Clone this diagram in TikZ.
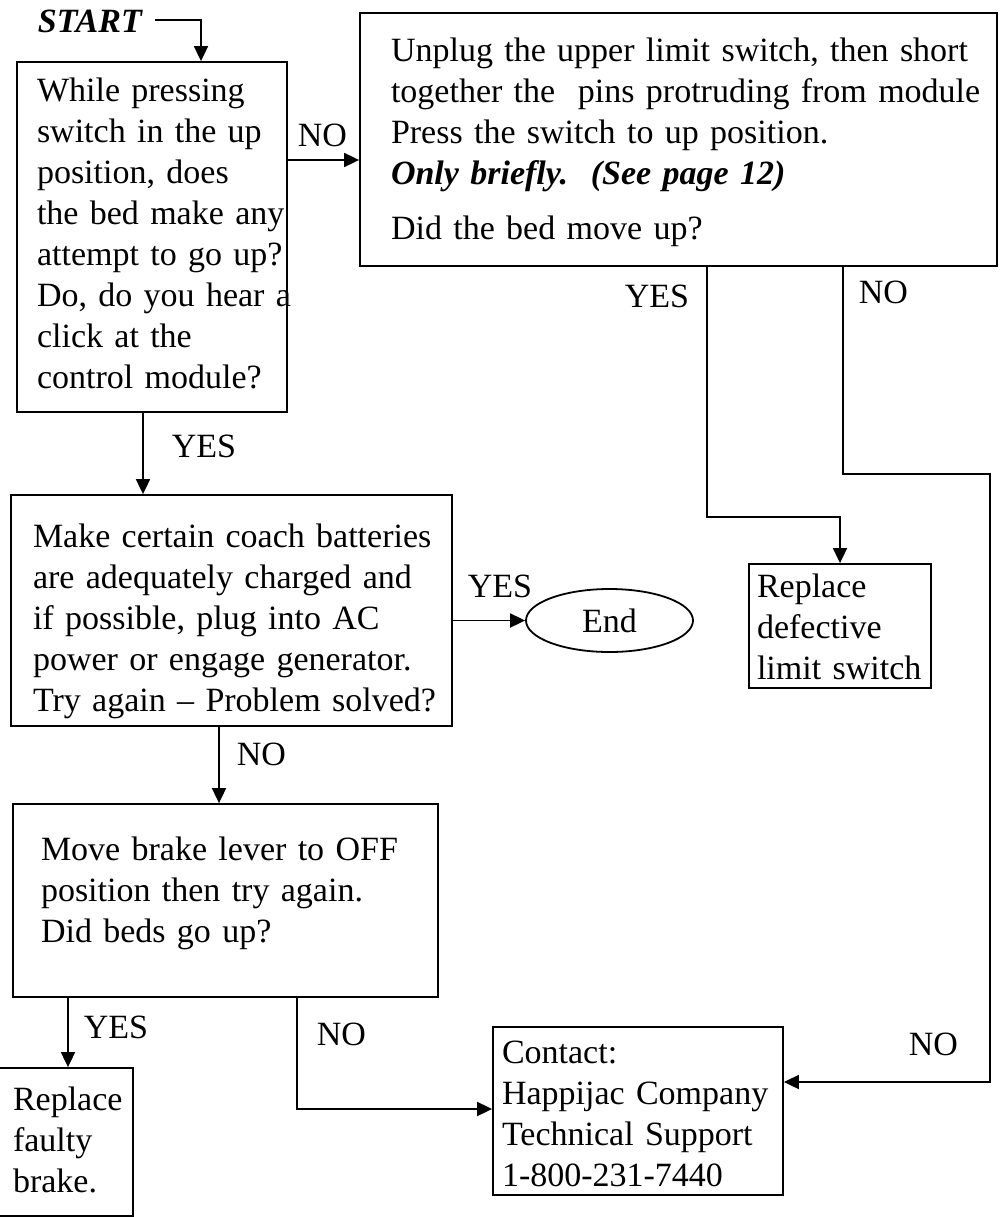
\documentclass[tikz,border=0pt]{standalone}
\usepackage{fontspec}
\setmainfont{Liberation Serif}
\usetikzlibrary{shapes.geometric,arrows.meta}
\newcommand\topgap[1]{\rule{0pt}{#1}}
\newcommand\botgap[1]{\rule[-#1]{0pt}{#1}}
\begin{document}
\begin{tikzpicture}[x=1pt,y=-1pt,
  font=\fontsize{34pt}{41pt}\selectfont,
  line width=1.8pt,
  box/.style={draw, rectangle, inner ysep=0pt, align=left},
  lbl/.style={inner sep=0pt, anchor=base west},
  arr/.style={-{Triangle[length=15pt,width=14pt]}},
  ]
\useasboundingbox (0,0) rectangle (1003,1217);

% boxes
\node[box, minimum width=270pt, minimum height=350pt, inner xsep=20pt, text width=230pt] (q1) at (152,237)
 {\topgap{28.7pt}\mbox{While pressing}\\\mbox{switch in the up}\\\mbox{position, does}\\\mbox{the bed make any}\\\mbox{attempt to go up?}\\\mbox{Do, do you hear a}\\\mbox{click at the}\\\mbox{control module?}\botgap{12.3pt}};

\node[box, minimum width=637pt, minimum height=253pt, inner xsep=31pt, text width=575pt] (q2) at (678.5,139.5)
 {\topgap{35.3pt}\mbox{Unplug the upper limit switch, then short}\\\mbox{together the\ \ pins protruding from module}\\\mbox{Press the switch to up position.}\\\mbox{\textbf{\textit{Only briefly.\ \ (See page 12)}}}\\[14pt]\mbox{Did the bed move up?}\botgap{12.3pt}};

\node[box, minimum width=441pt, minimum height=231pt, inner xsep=22pt, text width=397pt] (q3) at (231.5,610.5)
 {\topgap{49.3pt}\mbox{Make certain coach batteries}\\\mbox{are adequately charged and}\\\mbox{if possible, plug into AC}\\\mbox{power or engage generator.}\\\mbox{Try again -- Problem solved?}\botgap{12.3pt}};

\node[box, minimum width=425pt, minimum height=193pt, inner xsep=28pt, text width=369pt] (q4) at (225.5,900.5)
 {\topgap{28.7pt}\mbox{Move brake lever to OFF}\\\mbox{position then try again.}\\\mbox{Did beds go up?}\botgap{27.7pt}};

\node[box, minimum width=182pt, minimum height=124pt, inner xsep=8pt, text width=166pt] (rep1) at (840,626)
 {\topgap{30pt}\mbox{Replace}\\\mbox{defective}\\\mbox{limit switch}\botgap{6pt}};

\node[box, minimum width=136pt, minimum height=148pt, inner xsep=16pt, text width=104pt] (rep2) at (65,1142)
 {\topgap{28.7pt}\mbox{Replace}\\\mbox{faulty}\\\mbox{brake.}\botgap{10.7pt}};

\node[box, minimum width=290pt, minimum height=168pt, inner xsep=9pt, text width=272pt] (contact) at (638,1111)
 {\topgap{30pt}\mbox{Contact:}\\\mbox{Happijac Company}\\\mbox{Technical Support}\\\mbox{1-800-231-7440}\botgap{3pt}};

\node[draw, ellipse, minimum width=167pt, minimum height=63pt, inner sep=0pt] (endn) at (609.5,620.5) {End};

% labels
\node[lbl, font=\fontsize{34pt}{41pt}\selectfont\bfseries\itshape] (start) at (37,33) {START};
\node[lbl] (no1) at (297,147) {NO};
\node[lbl] (yes1) at (171,457) {YES};
\node[lbl] (yes2) at (467,597) {YES};
\node[lbl] (no3) at (236,765) {NO};
\node[lbl] (yes3) at (624,307) {YES};
\node[lbl] (no2) at (858,303) {NO};
\node[lbl] (yes4) at (83,1038) {YES};
\node[lbl] (no4) at (316,1045) {NO};
\node[lbl] (no5) at (908,1055) {NO};

% connectors
\coordinate (bendR) at (990,474);
\draw[arr] ([xshift=12pt,yshift=2pt]start.east) -| ([xshift=49pt]q1.north);
\draw[arr] ([yshift=77pt]q1.east) -- ([yshift=77pt]q1.east -| q2.west);
\draw[arr] ([xshift=-9pt]q1.south) -- ([xshift=-9pt]q1.south |- q3.north);
\draw[arr] (q3.east |- endn.west) -- (endn.west);
\draw[arr] ([xshift=-12.5pt]q3.south) -- ([xshift=-12.5pt]q3.south |- q4.north);
\draw[arr] ([xshift=28.5pt]q2.south) |- ([yshift=46pt]rep1.north) -- (rep1.north);
\draw[arr] ([xshift=164.5pt]q2.south) |- (bendR) |- ([yshift=29pt]contact.east);
\draw[arr] ([xshift=3pt]rep2.north |- q4.south) -- ([xshift=3pt]rep2.north);
\draw[arr] ([xshift=71.5pt]q4.south) |- ([yshift=2pt]contact.west);
\end{tikzpicture}
\end{document}
